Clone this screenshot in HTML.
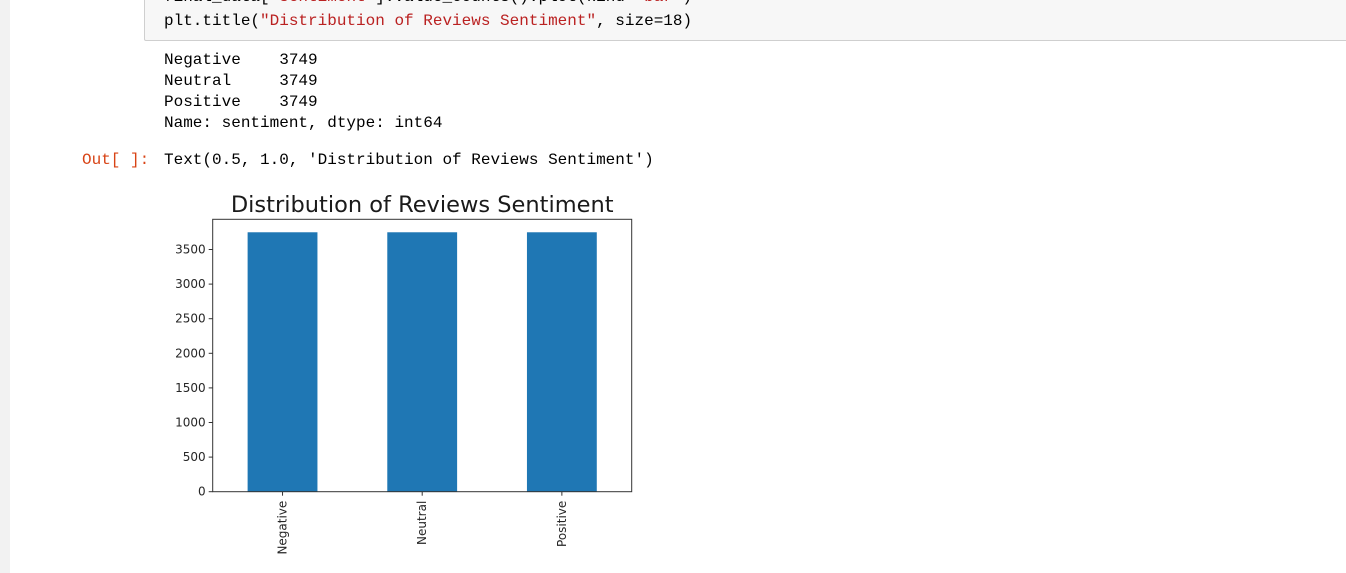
<!DOCTYPE html>
<html><head><meta charset="utf-8"><style>
body{margin:0;width:1346px;height:573px;background:#fff;overflow:hidden;position:relative;font-family:"Liberation Mono","DejaVu Sans Mono",monospace}
.l{position:absolute;white-space:pre;font-size:16px;color:#000}
</style></head><body>
<div style="position:absolute;left:0;top:0;width:10px;height:573px;background:#f2f2f2"></div>
<div style="position:absolute;left:144px;top:-2px;width:1210px;height:41px;background:#f7f7f7;border:1px solid #cfcfcf;border-radius:2px"></div>
<div class="l" style="left:164px;top:-12px">final_data[<span style="color:#ba2121">'sentiment'</span>].value_counts().plot(kind=<span style="color:#ba2121">'bar'</span>)</div>
<div class="l" style="left:164px;top:12px">plt.title(<span style="color:#ba2121">"Distribution of Reviews Sentiment"</span>, size=18)</div>
<div class="l" style="left:164px;top:51px">Negative    3749</div>
<div class="l" style="left:164px;top:72px">Neutral     3749</div>
<div class="l" style="left:164px;top:93px">Positive    3749</div>
<div class="l" style="left:164px;top:114px">Name: sentiment, dtype: int64</div>
<div class="l" style="left:82px;top:151px;color:#d84315">Out[ ]:</div>
<div class="l" style="left:164px;top:151px">Text(0.5, 1.0, 'Distribution of Reviews Sentiment')</div>
<svg id="chart" width="1346" height="573" style="position:absolute;left:0;top:0" font-family="DejaVu Sans, Liberation Sans, sans-serif"></svg>
<script>
const categories=["Negative","Neutral","Positive"];
const values=[3749,3749,3749];
const yTicks=[0,500,1000,1500,2000,2500,3000,3500];
const svg=document.getElementById('chart');
const NS='http://www.w3.org/2000/svg';
const L=212.7,R=631.7,T=219.3,B=491.7;
const ymax=Math.max(...values)*1.05;
const y=v=>B-(v/ymax)*(B-T);
const step=(R-L)/categories.length;
const x=i=>L+step*(i+0.5);
function mk(tag,attrs){const e=document.createElementNS(NS,tag);for(const k in attrs)e.setAttribute(k,attrs[k]);svg.appendChild(e);return e;}
values.forEach((v,i)=>{
 const r=mk('rect',{x:x(i)-step*0.25,y:y(v),width:step*0.5,height:B-y(v),fill:'#1f77b4'});
 
 
 mk('line',{x1:x(i),x2:x(i),y1:B,y2:B+4,stroke:'#333'});
 const t=mk('text',{x:0,y:0,'font-size':12,fill:'#262626','text-anchor':'end',transform:`translate(${x(i)+4},${B+9}) rotate(-90)`});
 t.textContent=categories[i];
 
 
});
yTicks.forEach(v=>{
 mk('line',{x1:L-4,x2:L,y1:y(v),y2:y(v),stroke:'#333'});
 const t=mk('text',{x:L-7,y:y(v)+4,'font-size':12,fill:'#262626','text-anchor':'end'});
 t.textContent=v;
 
 
});
const f=mk('rect',{x:L,y:T,width:R-L,height:B-T,fill:'none',stroke:'#333','stroke-width':1});


const ti=mk('text',{x:(L+R)/2,y:212,'font-size':22.5,fill:'#1a1a1a','text-anchor':'middle'});
ti.textContent='Distribution of Reviews Sentiment';


</script>
</body></html>
